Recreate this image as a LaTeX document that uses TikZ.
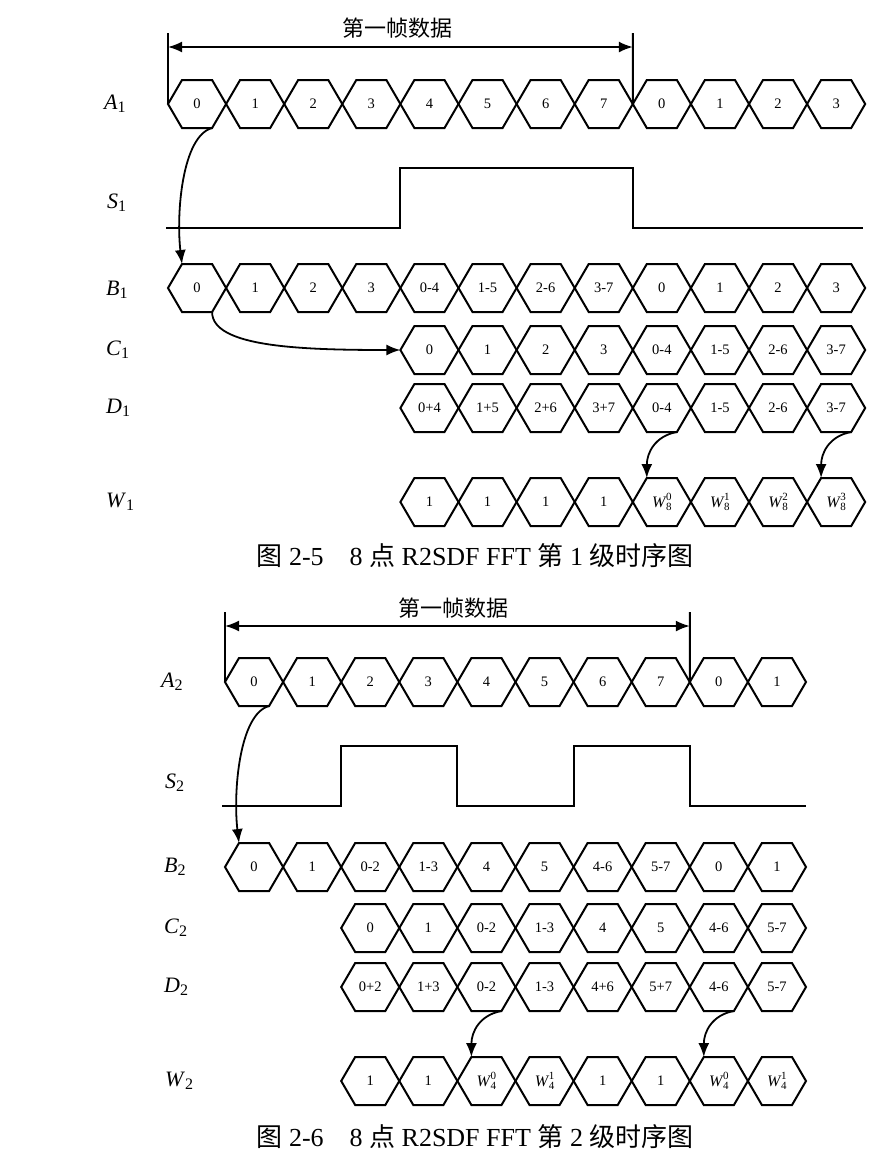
\documentclass[tikz,border=0pt]{standalone}
\usepackage{fontspec}
\setmainfont{Liberation Serif}
\newfontfamily\cjk{Noto Sans CJK SC}
\usetikzlibrary{arrows.meta}
\newcommand\Wsub[2]{{\fontsize{16}{16}\selectfont\textit{W}}\kern-0.5pt\raisebox{-3.5pt}{\fontsize{11}{11}\selectfont #1}\kern-5.5pt\raisebox{6.5pt}{\fontsize{11}{11}\selectfont #2}}
\newcommand\rlab[2]{\textit{#1}\raisebox{-3pt}{\fontsize{16}{16}\selectfont #2}}
\newcommand\hexrow[4]{%
  \foreach \t [count=\i from 0] in {#4} {
    \node[hexbox] (#1-\i) at ({#2+58.1*\i+29.05},#3) {\t};
    \draw[hexline] (#1-\i.west) -- ([xshift=14pt]#1-\i.north west) -- ([xshift=-14pt]#1-\i.north east) -- (#1-\i.east) -- ([xshift=-14pt]#1-\i.south east) -- ([xshift=14pt]#1-\i.south west) -- cycle;
  }}
\tikzset{
  hexbox/.style={minimum width=58.1pt, minimum height=48pt, inner sep=0pt, outer sep=0pt, font=\fontsize{14.5}{15}\selectfont},
  hexline/.style={line width=2pt, line join=miter},
  wave/.style={line width=2pt},
  flow/.style={line width=1.8pt, -{Latex[length=14pt,width=11pt]}},
  spanarrow/.style={line width=1.8pt, {Latex[length=14pt,width=11pt]}-{Latex[length=14pt,width=11pt]}},
  rowlab/.style={anchor=west, inner sep=0pt, font=\fontsize{22}{22}\selectfont},
  zh/.style={inner sep=0pt, font=\cjk\fontsize{22}{22}\selectfont},
  captext/.style={inner sep=0pt, font=\fontsize{26}{26}\selectfont},
}
\begin{document}
\begin{tikzpicture}[x=1pt,y=-1pt]
\useasboundingbox (0,0) rectangle (890,1176);
% ================= Figure 2-5 =================
\node[zh] (t1) at (397,28) {第一帧数据};
\hexrow{a1}{168}{104}{0,1,2,3,4,5,6,7,0,1,2,3}
\hexrow{b1}{168}{288}{0,1,2,3,0-4,1-5,2-6,3-7,0,1,2,3}
\hexrow{c1}{400.4}{350}{0,1,2,3,0-4,1-5,2-6,3-7}
\hexrow{d1}{400.4}{408}{0+4,1+5,2+6,3+7,0-4,1-5,2-6,3-7}
\hexrow{w1}{400.4}{502}{1,1,1,1,{\Wsub{8}{0}},{\Wsub{8}{1}},{\Wsub{8}{2}},{\Wsub{8}{3}}}
\coordinate (f1l) at (168,33);
\coordinate (f1r) at (632.8,33);
\coordinate (f1al) at (168,47);
\coordinate (f1ar) at (632.8,47);
\draw[wave] (f1l) -- (a1-0.west);
\draw[wave] (f1r) -- (a1-7.east);
\draw[spanarrow] (f1al) -- (f1ar);
\draw[wave] (166,228) -- (400.4,228) -- (400.4,168) -- (632.8,168) -- (632.8,228) -- (863,228);
\node[rowlab] (la1) at (104,104) {\rlab{A}{1}};
\node[rowlab] (ls1) at (107,203) {\rlab{S}{1}};
\node[rowlab] (lb1) at (106,290) {\rlab{B}{1}};
\node[rowlab] (lc1) at (106,350) {\rlab{C}{1}};
\node[rowlab] (ld1) at (106,408) {\rlab{D}{1}};
\node[rowlab] (lw1) at (106,502) {\rlab{W}{1}};
\draw[flow] ([xshift=-14pt]a1-0.south east) .. controls +(-30,8) and +(-6,-50) .. ([xshift=14pt]b1-0.north west);
\draw[flow] ([xshift=-14pt]b1-0.south east) .. controls +(0,35) and +(-100,0) .. (c1-0.west);
\draw[flow] ([xshift=-14pt]d1-4.south east) .. controls +(-22,4) and +(0,-25) .. ([xshift=14pt]w1-4.north west);
\draw[flow] ([xshift=-14pt]d1-7.south east) .. controls +(-22,4) and +(0,-25) .. ([xshift=14pt]w1-7.north west);
\node[captext] (cap1) at (475,556) {{\cjk 图} 2-5\hspace{1em}8 {\cjk 点} R2SDF FFT {\cjk 第} 1 {\cjk 级时序图}};
% ================= Figure 2-6 =================
\node[zh] (t2) at (453,608) {第一帧数据};
\hexrow{a2}{225}{682}{0,1,2,3,4,5,6,7,0,1}
\hexrow{b2}{225}{867}{0,1,0-2,1-3,4,5,4-6,5-7,0,1}
\hexrow{c2}{341.2}{928}{0,1,0-2,1-3,4,5,4-6,5-7}
\hexrow{d2}{341.2}{987}{0+2,1+3,0-2,1-3,4+6,5+7,4-6,5-7}
\hexrow{w2}{341.2}{1081}{1,1,{\Wsub{4}{0}},{\Wsub{4}{1}},1,1,{\Wsub{4}{0}},{\Wsub{4}{1}}}
\coordinate (f2l) at (225,612);
\coordinate (f2r) at (689.8,612);
\coordinate (f2al) at (225,626);
\coordinate (f2ar) at (689.8,626);
\draw[wave] (f2l) -- (a2-0.west);
\draw[wave] (f2r) -- (a2-7.east);
\draw[spanarrow] (f2al) -- (f2ar);
\draw[wave] (222,806) -- (341.2,806) -- (341.2,746) -- (457.4,746) -- (457.4,806) -- (573.6,806) -- (573.6,746) -- (689.8,746) -- (689.8,806) -- (806,806);
\node[rowlab] (la2) at (161,682) {\rlab{A}{2}};
\node[rowlab] (ls2) at (165,783) {\rlab{S}{2}};
\node[rowlab] (lb2) at (164,867) {\rlab{B}{2}};
\node[rowlab] (lc2) at (164,928) {\rlab{C}{2}};
\node[rowlab] (ld2) at (164,987) {\rlab{D}{2}};
\node[rowlab] (lw2) at (165,1081) {\rlab{W}{2}};
\draw[flow] ([xshift=-14pt]a2-0.south east) .. controls +(-30,8) and +(-6,-50) .. ([xshift=14pt]b2-0.north west);
\draw[flow] ([xshift=-14pt]d2-2.south east) .. controls +(-22,4) and +(0,-25) .. ([xshift=14pt]w2-2.north west);
\draw[flow] ([xshift=-14pt]d2-6.south east) .. controls +(-22,4) and +(0,-25) .. ([xshift=14pt]w2-6.north west);
\node[captext] (cap2) at (475,1137) {{\cjk 图} 2-6\hspace{1em}8 {\cjk 点} R2SDF FFT {\cjk 第} 2 {\cjk 级时序图}};
\end{tikzpicture}
\end{document}
